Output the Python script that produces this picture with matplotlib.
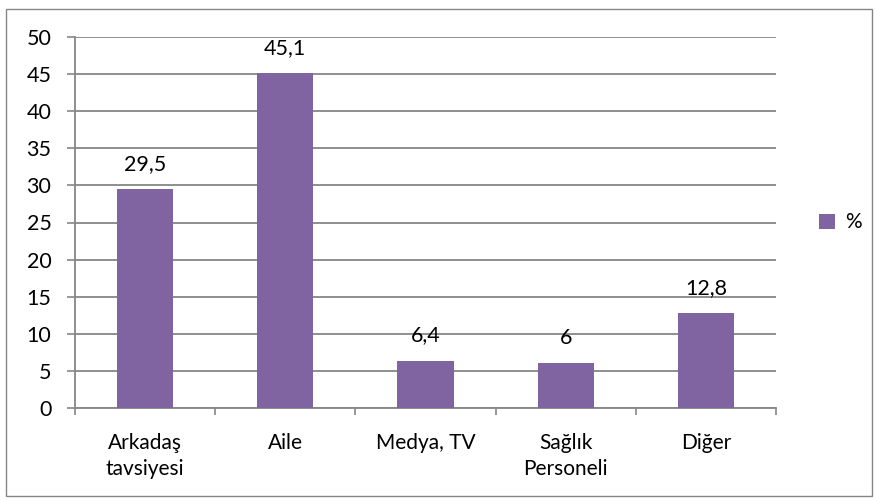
import matplotlib
matplotlib.use("Agg")
import matplotlib.pyplot as plt
from matplotlib.patches import Rectangle

# veriler
kategoriler = ["Arkadaş\ntavsiyesi", "Aile", "Medya, TV", "Sağlık\nPersoneli", "Diğer"]
yuzdeler = [29.5, 45.1, 6.4, 6, 12.8]
etiketler = ["29,5", "45,1", "6,4", "6", "12,8"]
y_ticks = [0, 5, 10, 15, 20, 25, 30, 35, 40, 45, 50]

plt.rcParams["font.family"] = ["Lato", "DejaVu Sans"]

fig = plt.figure(figsize=(8.75, 5.01), dpi=100)
ax = fig.add_axes([75 / 875, 1 - 408 / 501, 701 / 875, 371 / 501])

renk = "#8064A2"
gri = "#868686"

x = list(range(len(kategoriler)))
bars = ax.bar(x, yuzdeler, width=0.4, color=renk, zorder=3, label="%")

for xi, v, t in zip(x, yuzdeler, etiketler):
    ax.annotate(t, (xi, v), xytext=(0, 11), textcoords="offset points",
                ha="center", va="bottom", fontsize=15.5)

ax.set_xlim(-0.5, len(kategoriler) - 0.5)
ax.set_ylim(0, 50)
ax.set_yticks(y_ticks)
ax.tick_params(axis="y", labelsize=15.5, length=6, color=gri, width=1.2, pad=11)
ax.set_xticks([i - 0.5 for i in range(len(kategoriler) + 1)], minor=False)
ax.set_xticklabels([])
ax.set_xticks(x, minor=True)
ax.set_xticklabels(kategoriler, minor=True, fontsize=15, linespacing=1.35)
ax.tick_params(axis="x", which="major", length=5, color=gri, width=1.2)
ax.tick_params(axis="x", which="minor", length=0, pad=18)

ax.grid(axis="y", color=gri, linewidth=1.3, zorder=0)
for s in ["top", "right"]:
    ax.spines[s].set_visible(False)
for s in ["left", "bottom"]:
    ax.spines[s].set_color(gri)
    ax.spines[s].set_linewidth(1.3)

ax.legend(loc="center left", bbox_to_anchor=(1.035, 0.5), frameon=False,
          fontsize=15, handlelength=0.75, handleheight=0.75, handletextpad=0.5)

# dış çerçeve
fig.patches.append(Rectangle((6 / 875, 5 / 501), 866 / 875, 487 / 501,
                             transform=fig.transFigure, fill=False,
                             edgecolor=gri, linewidth=1.0))

fig.savefig("out.png", dpi=100)
